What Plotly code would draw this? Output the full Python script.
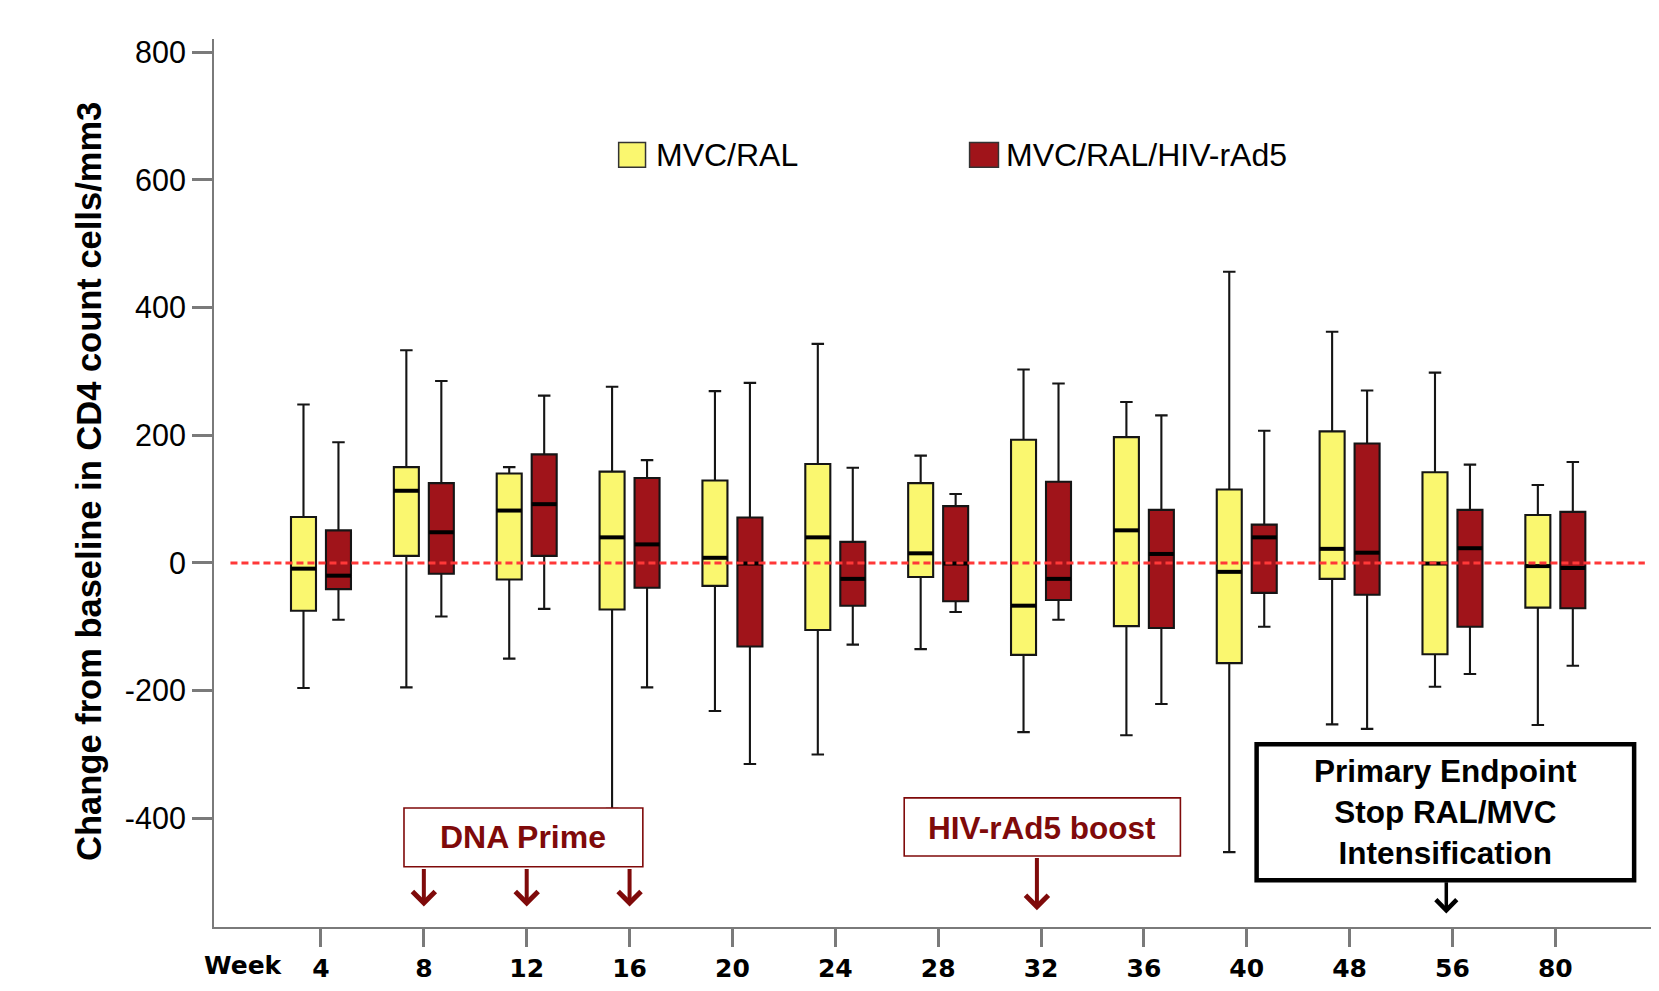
import plotly.graph_objects as go

# ---------------- data ----------------
weeks = ['4', '8', '12', '16', '20', '24', '28', '32', '36', '40', '48', '56', '80']

mvc_ral_upper  = [248, 333, 150, 276, 269, 343, 168, 303, 252, 456, 362, 298, 122]
mvc_ral_q3     = [72, 150, 140, 143, 129, 155, 125, 193, 197, 115, 206, 142, 75]
mvc_ral_median = [-9, 113, 82, 40, 8, 40, 15, -67, 51, -14, 22, -1, -5]
mvc_ral_q1     = [-75, 11, -26, -73, -36, -105, -22, -144, -99, -157, -25, -143, -70]
mvc_ral_lower  = [-196, -195, -150, -385, -232, -300, -135, -265, -270, -453, -253, -194, -254]

rad5_upper  = [189, 285, 262, 161, 282, 149, 108, 281, 231, 207, 270, 154, 158]
rad5_q3     = [51, 125, 170, 133, 71, 33, 89, 127, 83, 60, 187, 83, 80]
rad5_median = [-20, 48, 92, 29, -1, -25, -1, -25, 14, 40, 16, 23, -8]
rad5_q1     = [-41, -17, 11, -39, -131, -67, -60, -58, -102, -47, -50, -100, -71]
rad5_lower  = [-89, -84, -72, -195, -315, -128, -77, -89, -221, -100, -260, -174, -161]

series_names = ['MVC/RAL', 'MVC/RAL/HIV-rAd5']
y_ticks = [-400, -200, 0, 200, 400, 600, 800]

# ---------------- style ----------------
FONT = 'Liberation Sans, Arial, sans-serif'
XFONT = 'DejaVu Sans, Verdana, sans-serif'
YELLOW = '#FAF76F'
RED = '#A0141A'
DARKRED = '#7F0A0A'
AXIS_GRAY = '#7a7a7a'
BOXGAP = 0.32
BOXGROUPGAP = 0.285

pos = list(range(len(weeks)))
# geometry of grouped boxes (same formula plotly uses)
half_slot = 0.25 * (1 - BOXGAP)
half_width = 0.5 * (1 - BOXGAP) * (1 - BOXGROUPGAP) / 2

fig = go.Figure()

groups = [
    (series_names[0], YELLOW, mvc_ral_lower, mvc_ral_q1, mvc_ral_median, mvc_ral_q3, mvc_ral_upper, -half_slot),
    (series_names[1], RED, rad5_lower, rad5_q1, rad5_median, rad5_q3, rad5_upper, half_slot),
]

for name, color, lo, q1, med, q3, up, off in groups:
    fig.add_trace(go.Box(
        name=name, x=pos, lowerfence=lo, q1=q1, median=med, q3=q3, upperfence=up,
        fillcolor=color, line=dict(color='#151515', width=2.1),
        whiskerwidth=0.5, boxpoints=False, showlegend=False, hoverinfo='skip',
    ))

for name, color, lo, q1, med, q3, up, off in groups:
    mx, my = [], []
    for p, m in zip(pos, med):
        mx += [p + off - half_width, p + off + half_width, None]
        my += [m, m, None]
    fig.add_trace(go.Scatter(x=mx, y=my, mode='lines', line=dict(color='black', width=4),
                             showlegend=False, hoverinfo='skip'))

shapes = []
# zero reference line
shapes.append(dict(type='line', xref='x', yref='y', x0=-0.88, x1=12.87, y0=0, y1=0,
                   line=dict(color='#FF3838', width=3, dash='7px,4px'), layer='above'))
# legend squares
shapes.append(dict(type='rect', xref='paper', yref='paper', x0=0.2816, x1=0.3003, y0=0.8555, y1=0.8834,
                   fillcolor=YELLOW, line=dict(color='#333333', width=1.5)))
shapes.append(dict(type='rect', xref='paper', yref='paper', x0=0.5258, x1=0.5459, y0=0.8555, y1=0.8834,
                   fillcolor=RED, line=dict(color='#333333', width=1.5)))
# annotation boxes
shapes.append(dict(type='rect', xref='x', yref='y', x0=0.807, x1=3.129, y0=-476, y1=-384,
                   fillcolor='white', line=dict(color=DARKRED, width=1.6), layer='above'))
shapes.append(dict(type='rect', xref='x', yref='y', x0=5.67, x1=8.355, y0=-459, y1=-368,
                   fillcolor='white', line=dict(color=DARKRED, width=1.6), layer='above'))
shapes.append(dict(type='rect', xref='x', yref='y', x0=9.096, x1=12.766, y0=-497, y1=-284,
                   fillcolor='white', line=dict(color='black', width=4.5), layer='above'))

annotations = []
# legend text
annotations.append(dict(xref='paper', yref='paper', x=0.3059, y=0.8689, xanchor='left', yanchor='middle',
                        text=series_names[0], showarrow=False, font=dict(family=FONT, size=32, color='black')))
annotations.append(dict(xref='paper', yref='paper', x=0.5501, y=0.8689, xanchor='left', yanchor='middle',
                        text=series_names[1], showarrow=False, font=dict(family=FONT, size=32, color='black')))
# y title
annotations.append(dict(xref='paper', yref='paper', x=-0.0865, y=0.502, xanchor='center', yanchor='middle',
                        text='Change from baseline in CD4 count cells/mm3', textangle=-90, showarrow=False,
                        font=dict(family=FONT, size=34.5, color='black', weight='bold')))
# Week label
annotations.append(dict(xref='x', yref='paper', x=-0.754, y=-0.0435, xanchor='center', yanchor='middle',
                        text='Week', showarrow=False,
                        font=dict(family=XFONT, size=25, color='black', weight='bold')))
# box texts
annotations.append(dict(xref='x', yref='y', x=1.968, y=-430, text='DNA Prime', showarrow=False,
                        font=dict(family=FONT, size=32, color=DARKRED, weight='bold')))
annotations.append(dict(xref='x', yref='y', x=7.01, y=-415, text='HIV-rAd5 boost', showarrow=False,
                        font=dict(family=FONT, size=31.5, color=DARKRED, weight='bold')))
annotations.append(dict(xref='x', yref='y', x=10.93, y=-390,
                        text='Primary Endpoint<br>Stop RAL/MVC<br>Intensification', showarrow=False,
                        font=dict(family=FONT, size=31.5, color='black', weight='bold')))
# arrows
for wk in ['8', '12', '16']:
    i = weeks.index(wk)
    annotations.append(dict(xref='x', yref='y', axref='x', ayref='y', x=i, y=-538, ax=i, ay=-477,
                            text='', showarrow=True, arrowhead=4, arrowsize=1.1, arrowwidth=4,
                            arrowcolor=DARKRED))
i32 = weeks.index('32')
annotations.append(dict(xref='x', yref='y', axref='x', ayref='y', x=i32 - 0.04, y=-544, ax=i32 - 0.04, ay=-460,
                        text='', showarrow=True, arrowhead=4, arrowsize=1.1, arrowwidth=4,
                        arrowcolor=DARKRED))
i56 = weeks.index('56')
annotations.append(dict(xref='x', yref='y', axref='x', ayref='y', x=i56 - 0.06, y=-549, ax=i56 - 0.06, ay=-498,
                        text='', showarrow=True, arrowhead=4, arrowsize=1.15, arrowwidth=3.5,
                        arrowcolor='black'))

fig.update_layout(
    width=1651, height=983,
    margin=dict(l=206, r=7.6, t=30.7, b=56.3),
    paper_bgcolor='white', plot_bgcolor='white',
    boxmode='group', boxgap=BOXGAP, boxgroupgap=BOXGROUPGAP,
    shapes=shapes, annotations=annotations,
    font=dict(family=FONT, color='black'),
    xaxis=dict(range=[-1.04, 12.93], tickmode='array', tickvals=pos, ticktext=weeks,
               showline=True, linecolor=AXIS_GRAY, linewidth=2, ticks='outside', ticklen=18,
               tickwidth=2.5, tickcolor=AXIS_GRAY, showgrid=False, zeroline=False,
               tickfont=dict(family=XFONT, size=25, color='black', weight='bold')),
    yaxis=dict(range=[-570.3, 820.6], tickmode='array', tickvals=y_ticks,
               ticktext=[str(v) for v in y_ticks],
               showline=True, linecolor=AXIS_GRAY, linewidth=2, ticks='outside', ticklen=20,
               tickwidth=2.5, tickcolor=AXIS_GRAY, showgrid=False, zeroline=False,
               tickfont=dict(family=FONT, size=30.5, color='black')),
)

fig.write_html('out.html')
